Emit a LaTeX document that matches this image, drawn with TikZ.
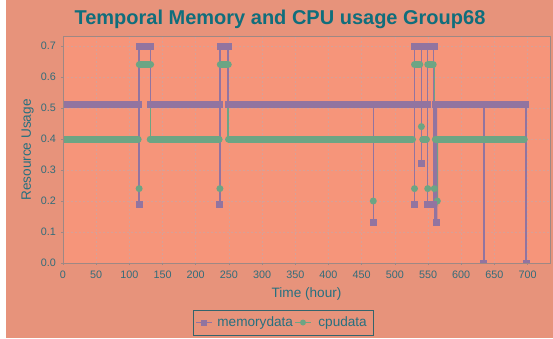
\documentclass[tikz,border=0pt]{standalone}
\usepackage{fontspec}
\setmainfont{Liberation Sans}
\usetikzlibrary{positioning}

\definecolor{chartbg}{RGB}{231,147,123}
\definecolor{plotbg}{RGB}{246,149,122}
\definecolor{gridcol}{RGB}{216,160,150}
\definecolor{framecol}{RGB}{158,136,132}
\definecolor{memcol}{RGB}{146,116,160}
\definecolor{cpucol}{RGB}{108,165,132}
\definecolor{titlecol}{RGB}{16,110,124}
\definecolor{labelcol}{RGB}{38,112,128}
\definecolor{tickcol}{RGB}{50,108,122}
\definecolor{legcol}{RGB}{52,100,108}

\begin{document}
\begin{tikzpicture}[
            x=1pt, y=1pt,
            every node/.style={inner sep=0pt},
            memline/.style={draw=memcol, line width=1.5pt},
            cpuline/.style={draw=cpucol, line width=1.5pt},
            membar/.style={draw=memcol, line width=7pt, line cap=rect},
            cpubar/.style={draw=cpucol, line width=7pt, line cap=round},
            memsq/.style={shape=rectangle, fill=memcol, minimum size=7pt},
            cpudot/.style={shape=circle, fill=cpucol, minimum size=7pt},
            ticklab/.style={text=tickcol, font=\fontsize{10.8}{12}\selectfont},
            axislab/.style={text=labelcol, font=\fontsize{13.6}{16}\selectfont},
            legtext/.style={text=labelcol, font=\fontsize{13.6}{16}\selectfont}
        ]

        \useasboundingbox (0,0) rectangle (553,338);
        \fill[white] (0,0) rectangle (6,338);
        \fill[chartbg] (6,0) rectangle (553,338);
        \fill[plotbg] (63,75) rectangle (550,302);

        \node[text=titlecol, font=\bfseries\fontsize{20}{24}\selectfont] (title) at (280,319) {Temporal Memory and CPU usage Group68};

        % data in hours / usage
        \begin{scope}[shift={(63,75)}, x=0.6637pt, y=310pt]
            \foreach \t in {50,100,...,700}
                \draw[gridcol, line width=0.6pt, dash pattern=on 2pt off 2pt] (\t,0) -- (\t,0.7323);
            \foreach \v in {0.1,0.2,0.3,0.4,0.5,0.6,0.7}
                \draw[gridcol, line width=0.6pt, dash pattern=on 2pt off 2pt] (0,\v) -- (733.8,\v);
            \foreach \t in {0,50,...,700} {
                \draw[framecol, line width=0.6pt] (\t,0) -- ++(0,-2pt);
                \node[ticklab] (xt\t) at (\t,0) [yshift=-12pt] {\t};
            }
            \foreach \v in {0.0,0.1,0.2,0.3,0.4,0.5,0.6,0.7} {
                \draw[framecol, line width=0.6pt] (0,\v) -- ++(-2pt,0);
                \node[ticklab, anchor=east] (yt\v) at (0,\v) [xshift=-7pt] {\v};
            }

            \begin{scope}
                \clip (0,0) rectangle (733.8,0.7323);

                % isolated points
                \coordinate (ms1) at (114.7,0.19);
                \coordinate (ms2) at (236.4,0.19);
                \coordinate (ms3) at (467.5,0.13);
                \coordinate (ms4) at (529.6,0.19);
                \coordinate (ms5) at (540,0.32);
                \coordinate (ms6) at (563,0.13);
                \coordinate (ms7) at (634,0);
                \coordinate (ms8) at (697.6,0);
                \coordinate (cd1) at (114.7,0.24);
                \coordinate (cd2) at (236.4,0.24);
                \coordinate (cd3) at (467.5,0.20);
                \coordinate (cd4) at (529.6,0.24);
                \coordinate (cd5) at (540,0.44);
                \coordinate (cd6) at (549.5,0.24);
                \coordinate (cd7) at (559.4,0.24);
                \coordinate (cd8) at (564,0.20);

                % lines
                \draw[cpuline] (114.7,0.64) -- (cd1);
                \draw[cpuline] (131.5,0.64) -- (131.5,0.40);
                \draw[cpuline] (236.4,0.64) -- (cd2);
                \draw[cpuline] (248.6,0.64) -- (248.6,0.40);
                \draw[cpuline] (467.5,0.40) -- (cd3);
                \draw[cpuline] (529.6,0.64) -- (cd4);
                \draw[cpuline] (540,0.64) -- (cd5) -- (540,0.40);
                \draw[cpuline] (549.5,0.64) -- (cd6);
                \draw[cpuline] (559.4,0.64) -- (cd7);
                \draw[cpuline] (cd7) -- (cd8) -- (564,0.40);

                \draw[memline] (114.7,0.70) -- (ms1);
                \draw[memline] (131.5,0.70) -- (131.5,0.51);
                \draw[memline] (236.4,0.70) -- (ms2);
                \draw[memline] (248.6,0.70) -- (248.6,0.51);
                \draw[memline] (467.5,0.51) -- (ms3);
                \draw[memline] (529.6,0.70) -- (ms4);
                \draw[memline] (540,0.70) -- (ms5);
                \draw[memline] (549.5,0.70) -- (549.5,0.19);
                \draw[memline] (558.5,0.70) -- (558.5,0.19);
                \draw[memline] (560.5,0.51) -- (560.5,0.13);
                \draw[memline] (562.5,0.51) -- (ms6);
                \draw[memline] (634,0.51) -- (ms7);
                \draw[memline] (697.6,0.51) -- (ms8);

                % cpudata
                \draw[cpubar] (0,0.40) -- (113.3,0.40);
                \draw[cpubar] (115,0.64) -- (132,0.64);
                \draw[cpubar] (131.4,0.40) -- (235.3,0.40);
                \draw[cpubar] (237,0.64) -- (249,0.64);
                \draw[cpubar] (249.4,0.40) -- (526.6,0.40);
                \draw[cpubar] (529.6,0.64) -- (537.6,0.64);
                \draw[cpubar] (542,0.40) -- (547.7,0.40);
                \draw[cpubar] (549.6,0.64) -- (557.8,0.64);
                \draw[cpubar] (561,0.40) -- (695,0.40);
                \foreach \p in {cd1,cd2,cd3,cd4,cd5,cd6,cd7,cd8}
                    \node[cpudot] (n\p) at (\p) {};

                % memorydata
                \draw[membar] (0,0.51) -- (113.3,0.51);
                \draw[membar] (115,0.70) -- (132,0.70);
                \draw[membar] (131.4,0.51) -- (235.3,0.51);
                \draw[membar] (237.3,0.70) -- (248.9,0.70);
                \draw[membar] (249.4,0.51) -- (548.7,0.51);
                \draw[membar] (529.6,0.70) -- (559,0.70);
                \draw[membar] (549,0.19) -- (558,0.19);
                \draw[membar] (561.7,0.51) -- (696.8,0.51);
                \foreach \p in {ms1,ms2,ms3,ms4,ms5,ms6,ms7,ms8}
                    \node[memsq] (n\p) at (\p) {};
            \end{scope}
        \end{scope}

        \draw[framecol, line width=0.8pt] (63,75) rectangle (550,302);

        \node[axislab] (xlabel) at (306.5,44) {Time (hour)};
        \node[axislab, rotate=90] (ylabel) at (27.5,188) {Resource Usage};

        % legend
        \node[draw=legcol, line width=0.8pt, minimum width=180pt, minimum height=25pt] (legend) at (283,15.5) {};
        \draw[memline] (196,15.5) -- (212,15.5);
        \node[memsq, minimum size=6pt] (legmem) at (204,15.5) {};
        \node[legtext, right=10pt of legmem] (legmemtxt) {memorydata};
        \draw[cpuline] (295,15.5) -- (311,15.5);
        \node[cpudot, minimum size=6pt] (legcpu) at (303,15.5) {};
        \node[legtext, right=12pt of legcpu] (legcputxt) {cpudata};

    \end{tikzpicture}
\end{document}
